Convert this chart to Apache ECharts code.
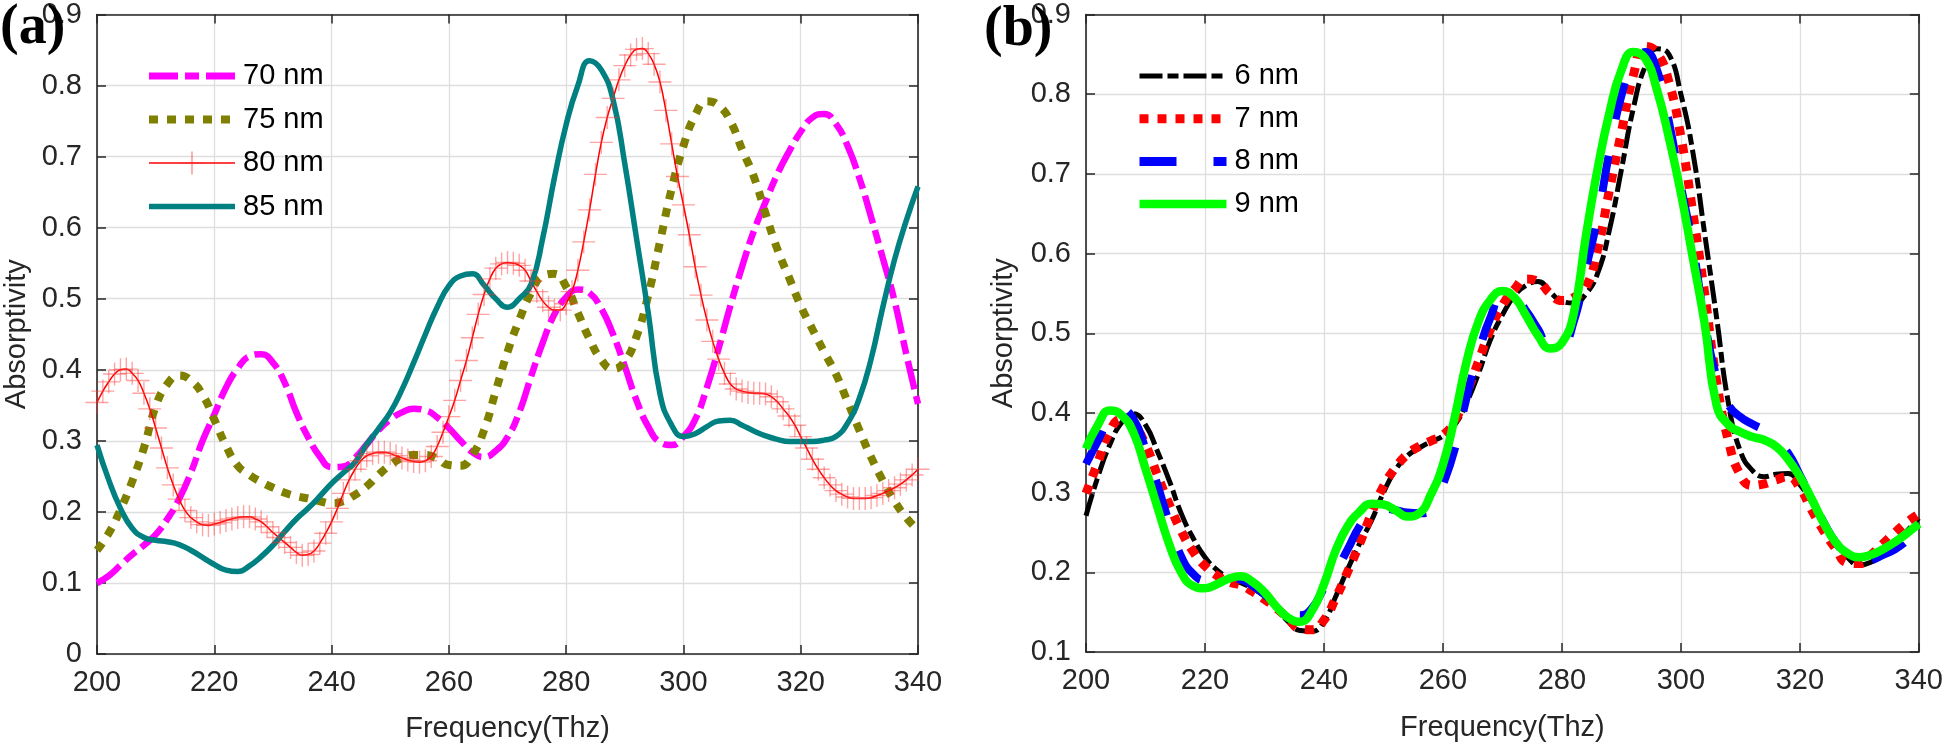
<!DOCTYPE html>
<html><head><meta charset="utf-8">
<script src="https://cdn.jsdelivr.net/npm/echarts@6/dist/echarts.min.js"></script>
<style>html,body{margin:0;padding:0;background:#fff}#c{width:1946px;height:748px}</style>
</head><body><div id="c"></div>
<script>
// ---------- data ----------
const freq = [200,202,204,206,208,210,212,214,216,218,220,222,224,226,228,230,232,234,236,238,240,242,244,246,248,250,252,254,256,258,260,262,264,266,268,270,272,274,276,278,280,282,284,286,288,290,292,294,296,298,300,302,304,306,308,310,312,314,316,318,320,322,324,326,328,330,332,334,336,338,340];
const freq1 = [200,201,202,203,204,205,206,207,208,209,210,211,212,213,214,215,216,217,218,219,220,221,222,223,224,225,226,227,228,229,230,231,232,233,234,235,236,237,238,239,240,241,242,243,244,245,246,247,248,249,250,251,252,253,254,255,256,257,258,259,260,261,262,263,264,265,266,267,268,269,270,271,272,273,274,275,276,277,278,279,280,281,282,283,284,285,286,287,288,289,290,291,292,293,294,295,296,297,298,299,300,301,302,303,304,305,306,307,308,309,310,311,312,313,314,315,316,317,318,319,320,321,322,323,324,325,326,327,328,329,330,331,332,333,334,335,336,337,338,339,340];

// panel (a)
const a70 = [0.100,0.110,0.125,0.140,0.153,0.168,0.190,0.218,0.255,0.300,0.337,0.375,0.402,0.419,0.422,0.410,0.382,0.340,0.305,0.278,0.263,0.264,0.276,0.295,0.315,0.330,0.340,0.345,0.343,0.333,0.318,0.300,0.284,0.277,0.286,0.305,0.340,0.390,0.438,0.478,0.502,0.513,0.508,0.486,0.450,0.405,0.357,0.320,0.298,0.294,0.306,0.330,0.375,0.430,0.490,0.545,0.595,0.636,0.675,0.707,0.735,0.755,0.760,0.746,0.715,0.670,0.615,0.557,0.497,0.422,0.352];
const a75 = [0.146,0.170,0.203,0.243,0.290,0.348,0.380,0.392,0.385,0.365,0.330,0.293,0.265,0.252,0.242,0.234,0.227,0.222,0.219,0.215,0.212,0.215,0.224,0.236,0.252,0.266,0.276,0.280,0.280,0.275,0.266,0.265,0.280,0.315,0.370,0.425,0.470,0.508,0.532,0.535,0.517,0.480,0.443,0.414,0.401,0.412,0.447,0.505,0.580,0.655,0.715,0.758,0.778,0.772,0.750,0.710,0.672,0.620,0.570,0.530,0.490,0.457,0.425,0.394,0.355,0.315,0.277,0.244,0.215,0.192,0.174];
const a80 = [0.354,0.370,0.383,0.394,0.400,0.401,0.395,0.385,0.367,0.345,0.318,0.290,0.262,0.238,0.218,0.202,0.192,0.186,0.182,0.181,0.183,0.185,0.188,0.190,0.192,0.193,0.193,0.190,0.186,0.179,0.171,0.164,0.157,0.150,0.143,0.139,0.140,0.145,0.156,0.170,0.186,0.205,0.226,0.245,0.260,0.272,0.279,0.282,0.284,0.284,0.282,0.279,0.276,0.273,0.271,0.270,0.272,0.278,0.292,0.312,0.334,0.357,0.385,0.413,0.445,0.478,0.506,0.528,0.543,0.549,0.551,0.550,0.547,0.540,0.525,0.510,0.497,0.488,0.484,0.484,0.493,0.510,0.540,0.580,0.625,0.675,0.720,0.755,0.782,0.808,0.828,0.843,0.851,0.852,0.845,0.830,0.805,0.765,0.718,0.672,0.632,0.590,0.545,0.505,0.470,0.440,0.415,0.395,0.380,0.373,0.370,0.368,0.367,0.367,0.366,0.362,0.355,0.345,0.335,0.322,0.306,0.290,0.274,0.260,0.248,0.238,0.230,0.225,0.221,0.219,0.219,0.219,0.220,0.223,0.226,0.230,0.234,0.239,0.245,0.252,0.260];
const a85 = [0.294,0.245,0.205,0.177,0.164,0.160,0.158,0.154,0.146,0.136,0.126,0.118,0.116,0.124,0.137,0.153,0.172,0.190,0.205,0.222,0.240,0.255,0.270,0.295,0.317,0.340,0.372,0.410,0.450,0.488,0.518,0.532,0.535,0.519,0.500,0.488,0.500,0.520,0.585,0.670,0.745,0.800,0.835,0.822,0.780,0.690,0.585,0.480,0.366,0.322,0.306,0.310,0.320,0.328,0.329,0.322,0.314,0.307,0.302,0.299,0.299,0.299,0.301,0.306,0.325,0.360,0.415,0.488,0.555,0.610,0.658];

// panel (b)
const b6 = [0.271,0.320,0.360,0.388,0.399,0.385,0.352,0.315,0.274,0.243,0.219,0.203,0.193,0.187,0.180,0.170,0.156,0.138,0.127,0.126,0.138,0.170,0.204,0.236,0.265,0.300,0.328,0.346,0.356,0.364,0.371,0.385,0.413,0.450,0.492,0.523,0.547,0.560,0.565,0.552,0.540,0.538,0.549,0.575,0.630,0.705,0.782,0.835,0.857,0.850,0.800,0.728,0.625,0.520,0.412,0.352,0.328,0.320,0.323,0.324,0.310,0.288,0.264,0.238,0.219,0.209,0.213,0.223,0.236,0.252,0.268];
const b7 = [0.299,0.338,0.377,0.392,0.385,0.360,0.322,0.285,0.252,0.226,0.208,0.196,0.188,0.184,0.176,0.166,0.155,0.142,0.129,0.128,0.140,0.168,0.201,0.236,0.274,0.308,0.331,0.348,0.358,0.365,0.372,0.390,0.425,0.465,0.505,0.535,0.555,0.568,0.565,0.550,0.541,0.545,0.557,0.605,0.680,0.752,0.823,0.860,0.852,0.815,0.747,0.652,0.550,0.440,0.365,0.322,0.309,0.311,0.316,0.320,0.306,0.278,0.252,0.230,0.212,0.211,0.222,0.236,0.250,0.263,0.273];
const b8 = [0.336,0.365,0.393,0.404,0.392,0.355,0.310,0.262,0.220,0.198,0.190,0.190,0.192,0.191,0.183,0.172,0.160,0.150,0.146,0.155,0.180,0.202,0.229,0.258,0.277,0.280,0.278,0.275,0.274,0.277,0.310,0.355,0.420,0.475,0.520,0.545,0.545,0.528,0.505,0.483,0.485,0.515,0.580,0.645,0.728,0.798,0.840,0.853,0.830,0.765,0.685,0.610,0.515,0.445,0.410,0.395,0.386,0.378,0.365,0.350,0.322,0.292,0.263,0.238,0.222,0.213,0.215,0.222,0.229,0.240,0.255];
const b9 = [0.355,0.385,0.403,0.397,0.375,0.330,0.282,0.235,0.200,0.183,0.180,0.185,0.192,0.195,0.188,0.175,0.157,0.143,0.138,0.152,0.185,0.228,0.258,0.276,0.286,0.285,0.278,0.270,0.274,0.298,0.335,0.395,0.465,0.515,0.542,0.553,0.545,0.522,0.497,0.481,0.488,0.525,0.620,0.706,0.777,0.830,0.853,0.845,0.805,0.745,0.676,0.595,0.512,0.410,0.385,0.376,0.370,0.366,0.358,0.342,0.320,0.292,0.262,0.238,0.224,0.219,0.222,0.229,0.238,0.249,0.261];

const namesA = ['70 nm','75 nm','80 nm','85 nm'];
const namesB = ['6 nm','7 nm','8 nm','9 nm'];
const xTitle = 'Frequency(Thz)';
const yTitle = 'Absorptivity';

// ---------- chart ----------
const pairs = (xs, ys) => ys.map((v, i) => [xs[i], v]);
const AX = '#262626', GRIDC = '#dedede', FONT = 'Liberation Sans, Arial, sans-serif';
const plus = 'path://M0,9.4h20v1.2h-20z M9.4,0h1.2v20h-1.2z';

function xAx(g, nameGap) {
  const common = { type:'value', gridIndex:g, min:200, max:340, interval:20,
    axisLine:{show:true,onZero:false,lineStyle:{color:AX,width:1.6}},
    axisTick:{show:true,inside:true,length:9,lineStyle:{color:AX,width:1.5}} };
  return [
    Object.assign({}, common, { position:'bottom',
      axisLabel:{color:AX,fontSize:29,fontFamily:FONT,margin:14},
      splitLine:{show:true,lineStyle:{color:GRIDC,width:1.3}},
      name:xTitle, nameLocation:'middle', nameGap:nameGap,
      nameTextStyle:{color:AX,fontSize:29,fontFamily:FONT} }),
    Object.assign({}, common, { position:'top', axisLabel:{show:false}, splitLine:{show:false} })
  ];
}
function yAx(g, min, nameGap) {
  const common = { type:'value', gridIndex:g, min:min, max:0.9, interval:0.1,
    axisLine:{show:true,onZero:false,lineStyle:{color:AX,width:1.6}},
    axisTick:{show:true,inside:true,length:9,lineStyle:{color:AX,width:1.5}} };
  return [
    Object.assign({}, common, { position:'left',
      axisLabel:{color:AX,fontSize:29,fontFamily:FONT,margin:15,
        formatter:v => String(Math.round(v*10)/10)},
      splitLine:{show:true,lineStyle:{color:GRIDC,width:1.3}},
      name:yTitle, nameLocation:'middle', nameGap:nameGap, nameRotate:90,
      nameTextStyle:{color:AX,fontSize:29,fontFamily:FONT} }),
    Object.assign({}, common, { position:'right', axisLabel:{show:false}, splitLine:{show:false} })
  ];
}

function ln(name, xi, yi, xs, ys, color, width, dash, extra) {
  return Object.assign({
    name, type:'line', xAxisIndex:xi, yAxisIndex:yi, data:pairs(xs, ys),
    smooth:true, symbol:'none', showSymbol:false, animation:false,
    emphasis:{disabled:true},
    lineStyle:{color, width, type:dash || 'solid', cap:'butt', join:'round'},
    itemStyle:{color}
  }, extra || {});
}

const dA70 = [29,7,14,7], dDot = [9,9], dB6 = [23,5,11,5], dB8 = [37,37];

const series = [
  ln(namesA[0], 0, 0, freq, a70, '#FF00FF', 6.5, dA70),
  ln(namesA[1], 0, 0, freq, a75, '#808000', 8, dDot),
  ln(namesA[2], 0, 0, freq1, a80, '#FF0000', 1.5, null, {
    symbol: plus, symbolSize: 23, showSymbol: true, showAllSymbol: true,
    itemStyle: {color:'rgba(255,50,50,0.45)'} }),
  ln(namesA[3], 0, 0, freq, a85, '#008080', 5.5, null),
  ln(namesB[0], 2, 2, freq, b6, '#000000', 5, dB6),
  ln(namesB[1], 2, 2, freq, b7, '#FF0000', 9, dDot),
  ln(namesB[2], 2, 2, freq, b8, '#0000FF', 8, dB8),
  ln(namesB[3], 2, 2, freq, b9, '#00FF00', 8.5, null)
];

function legItem(name, color, width, dash, showSym) {
  return { name,
    itemStyle: showSym ? {color:'rgba(255,50,50,0.55)', opacity:1} : {opacity:0},
    lineStyle: {color, width, type: dash || 'solid', cap:'butt', opacity:1} };
}
const legendCommon = { orient:'vertical', itemWidth:86, itemHeight:29, padding:0,
  selectedMode:false, inactiveColor:'#000',
  textStyle:{color:'#000',fontSize:29,fontFamily:FONT,lineHeight:29,padding:[0,0,0,3]} };

const option = {
  backgroundColor:'#fff',
  animation:false,
  grid:[
    {left:97, top:13, width:821, height:641},
    {left:1086, top:13, width:834, height:639}
  ],
  xAxis:[...xAx(0, 60), ...xAx(1, 61)],
  yAxis:[...yAx(0, 0, 66), ...yAx(1, 0.1, 68)],
  legend:[
    Object.assign({}, legendCommon, { left:145, top:61.5, itemGap:14.5,
      data:[legItem(namesA[0],'#FF00FF',7,dA70), legItem(namesA[1],'#808000',8,dDot),
            legItem(namesA[2],'#FF0000',1.5,null,true), legItem(namesA[3],'#008080',5.5,null)] }),
    Object.assign({}, legendCommon, { left:1135, itemWidth:87, top:61.5, itemGap:13.7,
      data:[legItem(namesB[0],'#000000',5,dB6), legItem(namesB[1],'#FF0000',9,dDot),
            legItem(namesB[2],'#0000FF',9,dB8), legItem(namesB[3],'#00FF00',8.5,null)] })
  ],
  graphic:[
    {type:'text', left:0, top:1, z:100, style:{text:'(a)', font:'bold 56px "Liberation Serif", "Times New Roman", serif', fill:'#000'}},
    {type:'text', left:984, top:3, z:100, style:{text:'(b)', font:'bold 56px "Liberation Serif", "Times New Roman", serif', fill:'#000'}}
  ],
  series
};
const chart = echarts.init(document.getElementById('c'), null, {renderer:'canvas'});
chart.setOption(option);
</script></body></html>
